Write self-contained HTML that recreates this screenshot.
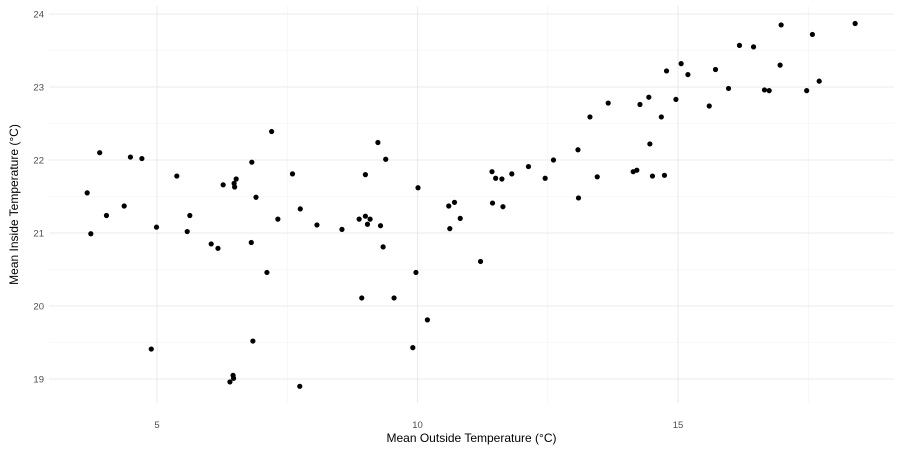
<!DOCTYPE html>
<html><head><meta charset="utf-8"><style>
html,body{margin:0;padding:0;background:#fff;}
svg{display:block;font-family:"Liberation Sans",sans-serif;}
</style></head><body>
<svg id="chart" width="900" height="450" viewBox="0 0 900 450"></svg>
<script>
const outsideTemp=[3.90,4.49,4.71,5.38,7.20,6.82,7.60,6.27,6.48,6.52,6.49,3.66,6.90,4.37,7.75,4.03,5.63,7.32,8.07,3.73,4.99,5.58,6.04,6.17,6.81,7.11,4.89,6.84,6.46,6.47,6.40,7.74,9.24,9.39,9.00,10.01,10.60,10.71,10.82,8.88,9.00,9.09,11.43,11.50,11.62,11.81,12.13,12.45,12.61,13.08,13.31,13.66,11.44,11.64,13.09,13.45,8.55,9.04,9.29,9.34,9.97,8.93,9.55,10.19,9.91,10.62,11.21,16.98,18.40,17.58,16.18,16.45,15.06,14.78,15.19,15.72,16.96,17.71,15.97,16.66,16.75,17.47,14.44,14.27,14.96,15.60,14.68,14.46,14.14,14.21,14.51,14.74];
const insideTemp=[22.10,22.04,22.02,21.78,22.39,21.97,21.81,21.66,21.68,21.74,21.63,21.55,21.49,21.37,21.33,21.24,21.24,21.19,21.11,20.99,21.08,21.02,20.85,20.79,20.87,20.46,19.41,19.52,19.05,19.01,18.96,18.90,22.24,22.01,21.80,21.62,21.37,21.42,21.20,21.19,21.23,21.19,21.84,21.75,21.74,21.81,21.91,21.75,22.00,22.14,22.59,22.78,21.41,21.36,21.48,21.77,21.05,21.12,21.10,20.81,20.46,20.11,20.11,19.81,19.43,21.06,20.61,23.85,23.87,23.72,23.57,23.55,23.32,23.22,23.17,23.24,23.30,23.08,22.98,22.96,22.95,22.95,22.86,22.76,22.83,22.74,22.59,22.22,21.84,21.86,21.78,21.79];
const xTicks=[5,10,15];
const xMinor=[7.5,12.5,17.5];
const yTicks=[19,20,21,22,23,24];
const yMinor=[19.5,20.5,21.5,22.5,23.5];

const NS="http://www.w3.org/2000/svg";
const svg=document.getElementById('chart');
const L=49,R=894,T=6,B=403;
function xs(v){return 157+(v-5)*52.1;}
function ys(v){return 14+(24-v)*73;}
function mk(tag,attrs,parent){const e=document.createElementNS(NS,tag);for(const k in attrs)e.setAttribute(k,attrs[k]);(parent||svg).appendChild(e);return e;}

const grid=mk('g',{});


yMinor.forEach(v=>{const l=mk('line',{x1:L,x2:R,y1:ys(v),y2:ys(v),stroke:'#f3f3f3','stroke-width':0.6},grid);

});
xMinor.forEach(v=>{const l=mk('line',{x1:xs(v),x2:xs(v),y1:T,y2:B,stroke:'#f3f3f3','stroke-width':0.6},grid);

});
yTicks.forEach(v=>{const l=mk('line',{x1:L,x2:R,y1:ys(v),y2:ys(v),stroke:'#ebebeb','stroke-width':1.1},grid);


const t=mk('text',{x:44,y:ys(v)+3.5,'text-anchor':'end','font-size':9.5,fill:'#4d4d4d'});t.textContent=v;

});
xTicks.forEach(v=>{const l=mk('line',{x1:xs(v),x2:xs(v),y1:T,y2:B,stroke:'#ebebeb','stroke-width':1.1},grid);


const t=mk('text',{x:xs(v),y:428,'text-anchor':'middle','font-size':9.5,fill:'#4d4d4d'});t.textContent=v;

});

const pts=mk('g',{});


outsideTemp.forEach((x,i)=>{const c=mk('circle',{cx:xs(x),cy:ys(insideTemp[i]),r:2.6,fill:'#000'},pts);

});

const xt=mk('text',{x:(L+R)/2,y:442,'text-anchor':'middle','font-size':12,fill:'#000'});
xt.textContent='Mean Outside Temperature (°C)';


const yt=mk('text',{x:0,y:0,'text-anchor':'middle','font-size':12,fill:'#000',transform:'translate(18,'+((T+B)/2)+') rotate(-90)'});
yt.textContent='Mean Inside Temperature (°C)';


</script>
</body></html>
